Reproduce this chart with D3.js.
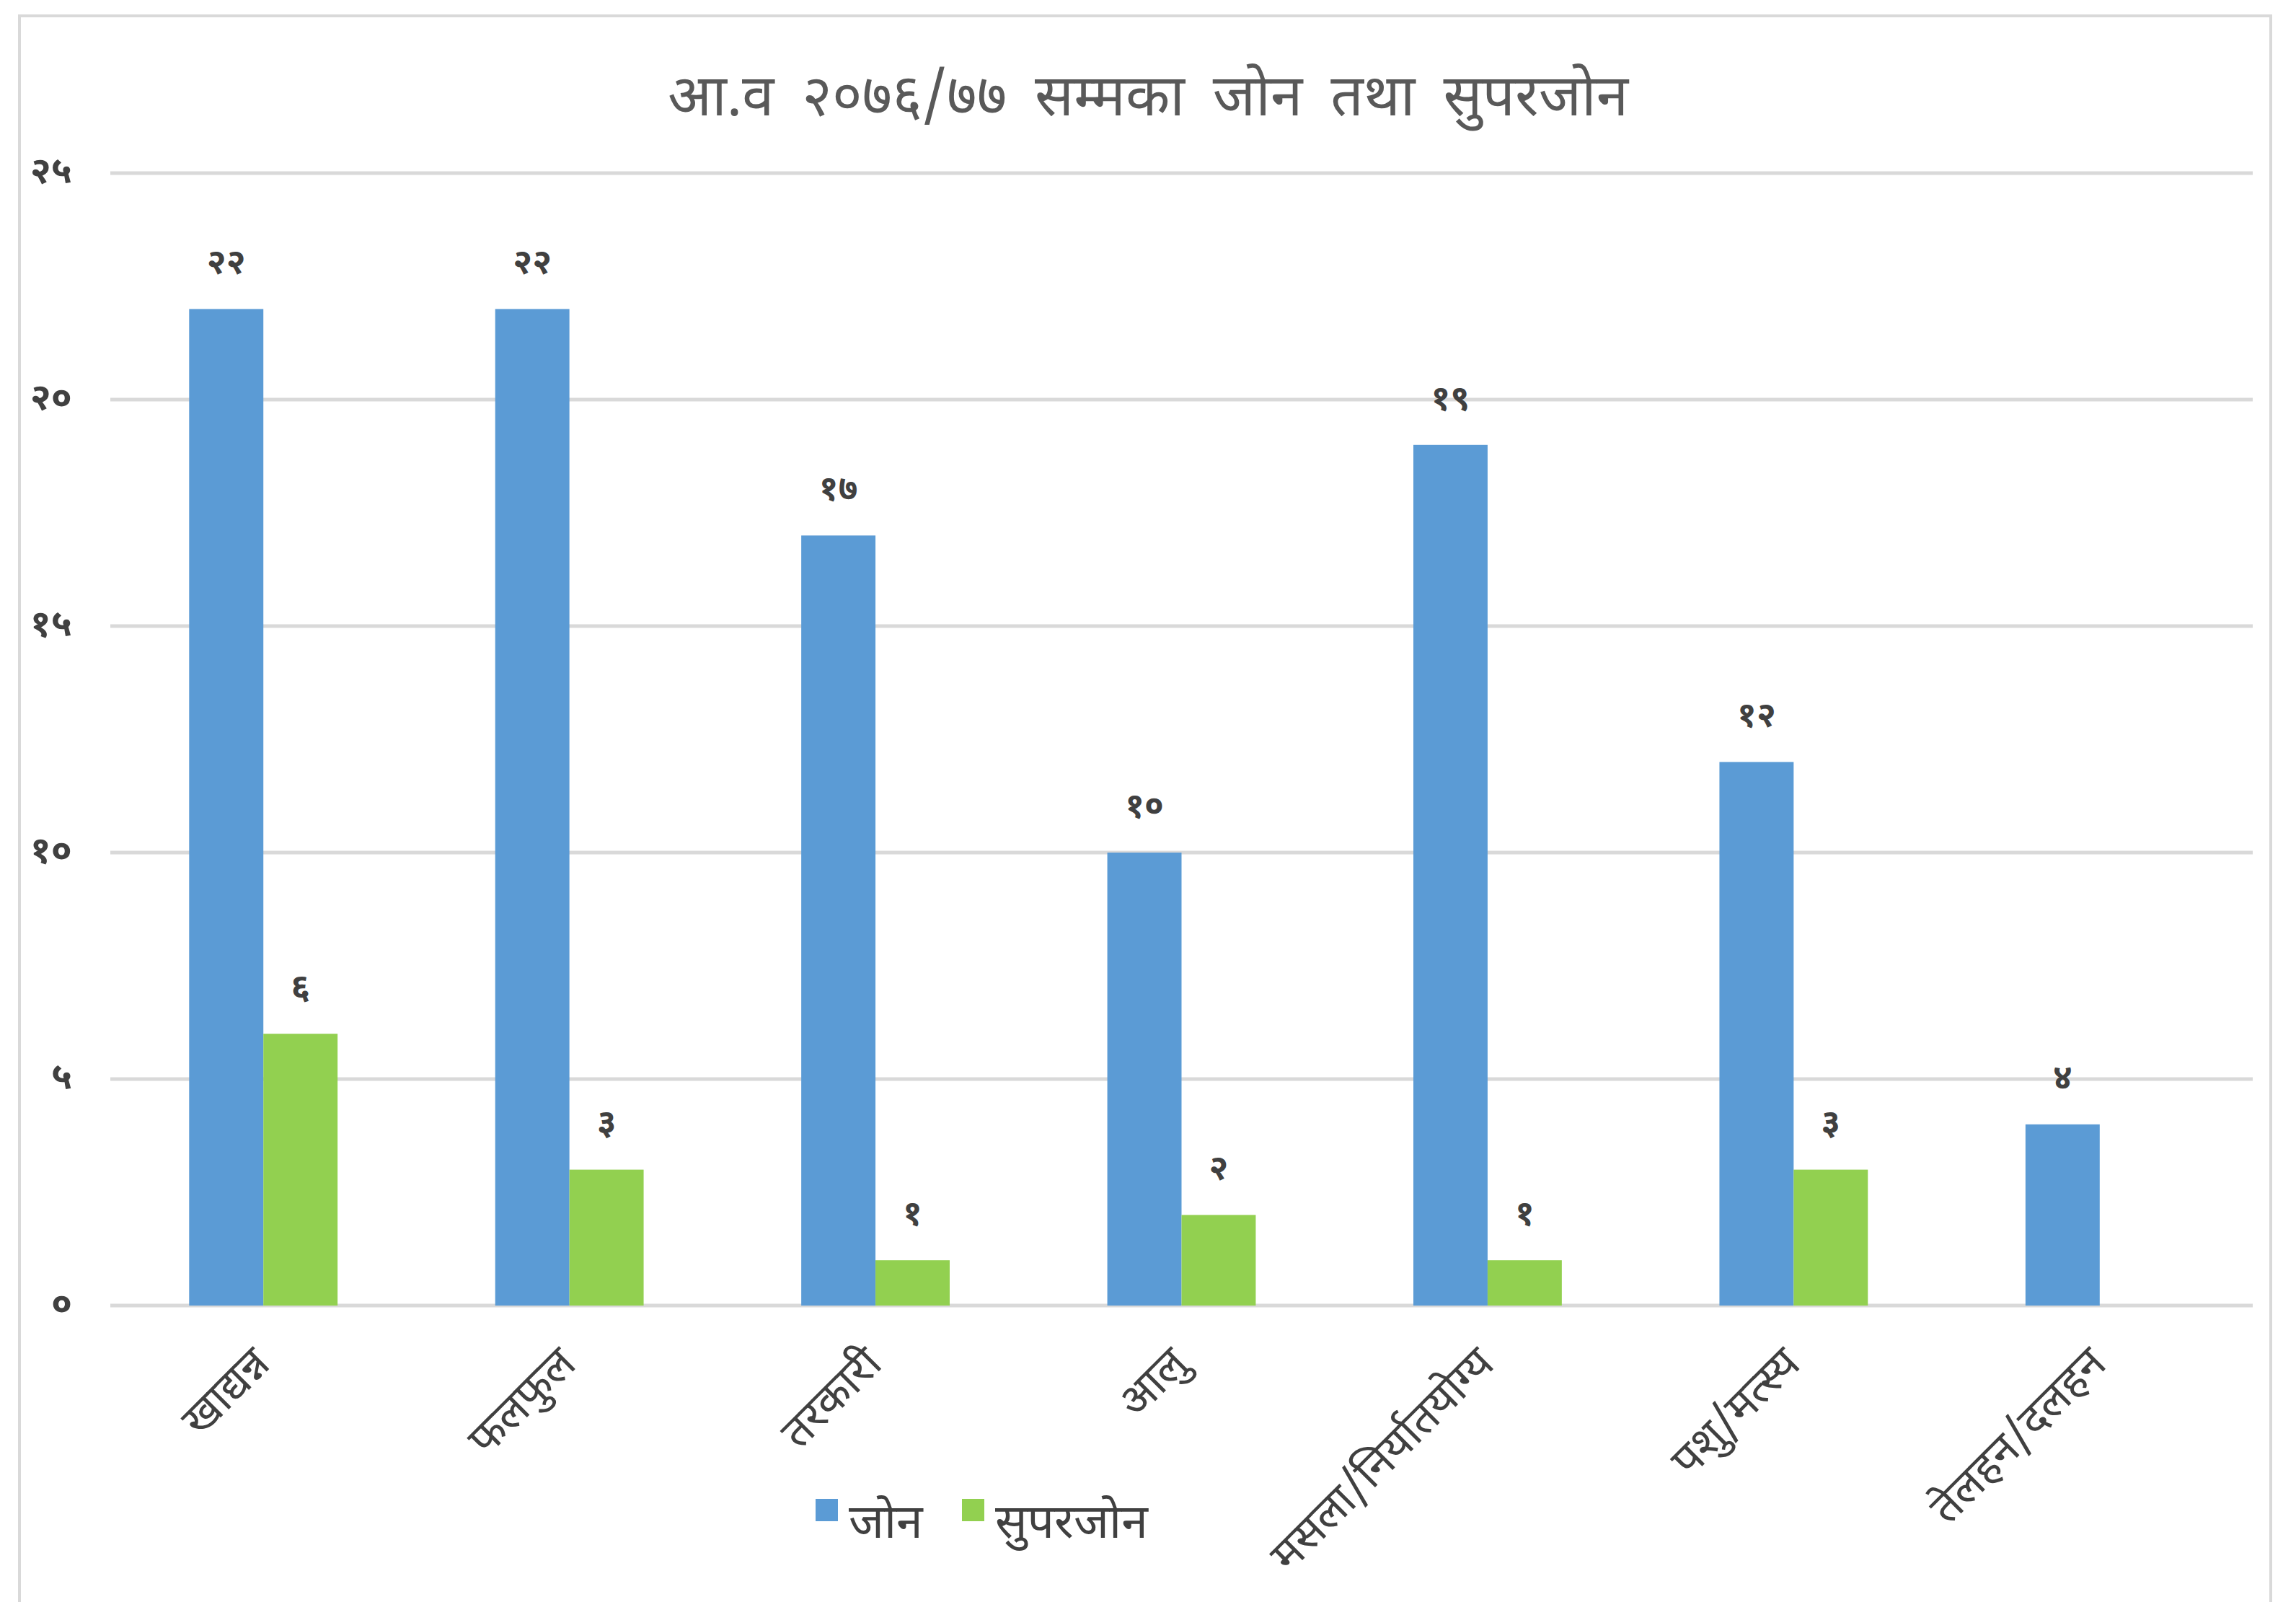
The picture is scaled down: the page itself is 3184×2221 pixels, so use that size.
<!DOCTYPE html>
<html>
<head>
    <meta charset="utf-8">
    <script src="https://d3js.org/d3.v7.min.js"></script>
    <style>
        body { margin: 0; background: #fff; }
        text { font-family: "Noto Sans Devanagari", "Noto Sans", sans-serif; }
    </style>
</head>
<body>
    <svg width="3184" height="2221"></svg>

    <script>
        // Chart data
        const title = "आ.व २०७६/७७ सम्मका जोन तथा सुपरजोन";
        const categories = ["खाद्यन्न", "फलफुल", "तरकारी", "आलु", "मसला/निर्यातयोग्य", "पशु/मत्स्य", "तेलहन/दलहन"];
        const seriesNames = ["जोन", "सुपरजोन"];
        const zoneValues = [22, 22, 17, 10, 19, 12, 4];
        const superZoneValues = [6, 3, 1, 2, 1, 3, null];
        const yTicks = [0, 5, 10, 15, 20, 25];
        const yTickLabels = ["०", "५", "१०", "१५", "२०", "२५"];
        const colors = ["#5B9BD5", "#92D050"];

        const devDigits = "०१२३४५६७८९";
        const toNepali = n => String(n).replace(/[0-9]/g, d => devDigits[+d]);

        const svg = d3.select("svg");
        const plot = { left: 153, right: 3124, top: 240, bottom: 1810 };

        // outer chart border
        svg.append("rect")
            .attr("x", 27).attr("y", 22)
            .attr("width", 3122).attr("height", 2230)
            .attr("fill", "none")
            .attr("stroke", "#d9d9d9")
            .attr("stroke-width", 4);

        const x0 = d3.scaleBand()
            .domain(categories)
            .range([plot.left, plot.right])
            .paddingInner(0.515)
            .paddingOuter(0.2575);

        const x1 = d3.scaleBand()
            .domain(seriesNames)
            .range([0, x0.bandwidth()]);

        const y = d3.scaleLinear()
            .domain([0, 25])
            .range([plot.bottom, plot.top]);

        // gridlines
        svg.append("g")
            .selectAll("line")
            .data(yTicks)
            .enter()
            .append("line")
            .attr("x1", plot.left)
            .attr("x2", plot.right)
            .attr("y1", d => y(d))
            .attr("y2", d => y(d))
            .attr("stroke", "#d9d9d9")
            .attr("stroke-width", 5);

        // y tick labels
        svg.append("g")
            .selectAll("text")
            .data(yTicks)
            .enter()
            .append("text")
            .attr("x", 100)
            .attr("y", d => y(d))
            .attr("text-anchor", "end")
            .attr("dominant-baseline", "middle")
            .attr("font-size", "52px")
            .attr("font-weight", "bold")
            .attr("fill", "#404040")
            .text((d, i) => yTickLabels[i]);

        // bars
        const rows = categories.map((c, i) => ({
            cat: c,
            vals: [zoneValues[i], superZoneValues[i]]
        }));

        const groups = svg.append("g")
            .selectAll("g")
            .data(rows)
            .enter()
            .append("g")
            .attr("transform", d => `translate(${x0(d.cat)},0)`);

        const cells = groups.selectAll("g")
            .data(d => d.vals.map((v, k) => ({ key: seriesNames[k], v: v, k: k })).filter(e => e.v != null))
            .enter()
            .append("g");

        cells.append("rect")
            .attr("x", d => x1(d.key))
            .attr("y", d => y(d.v))
            .attr("width", x1.bandwidth())
            .attr("height", d => y(0) - y(d.v))
            .attr("fill", d => colors[d.k]);

        cells.append("text")
            .attr("x", d => x1(d.key) + x1.bandwidth() / 2)
            .attr("y", d => y(d.v) - 62)
            .attr("text-anchor", "middle")
            .attr("dominant-baseline", "middle")
            .attr("font-size", "48px")
            .attr("font-weight", "bold")
            .attr("fill", "#404040")
            .text(d => toNepali(d.v));

        // category labels
        svg.append("g")
            .selectAll("text")
            .data(categories)
            .enter()
            .append("text")
            .attr("transform", d => `translate(${x0(d) + x0.bandwidth() / 2 + 12},${plot.bottom + 84}) rotate(-45)`)
            .attr("text-anchor", "end")
            .attr("font-size", "62px")
            .attr("fill", "#404040")
            .text(d => d);

        // title
        svg.append("text")
            .attr("x", 1592)
            .attr("y", 160)
            .attr("text-anchor", "middle")
            .attr("font-size", "80px")
            .attr("word-spacing", "18px")
            .attr("fill", "#595959")
            .text(title);

        // legend
        const legendX = [1131, 1334];
        const legend = svg.append("g")
            .selectAll("g")
            .data(seriesNames)
            .enter()
            .append("g")
            .attr("transform", (d, i) => `translate(${legendX[i]},2078)`);

        legend.append("rect")
            .attr("width", 31)
            .attr("height", 31)
            .attr("fill", (d, i) => colors[i]);

        legend.append("text")
            .attr("x", 46)
            .attr("y", 54)
            .attr("font-size", "66px")
            .attr("fill", "#404040")
            .text(d => d);
    </script>
</body>
</html>
